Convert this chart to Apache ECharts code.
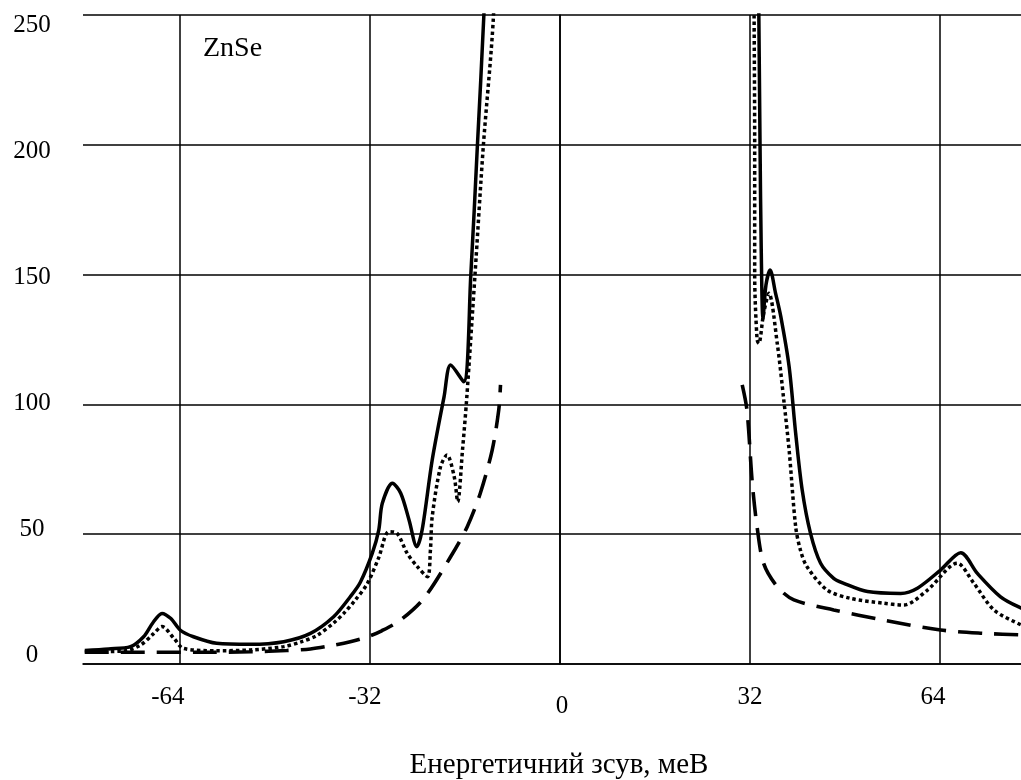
<!DOCTYPE html>
<html>
<head>
<meta charset="utf-8">
<script src="https://cdn.jsdelivr.net/npm/echarts@6/dist/echarts.min.js"></script>
<style>
  html, body { margin: 0; padding: 0; background: #fff; }
  #chart { width: 1021px; height: 780px; }
</style>
</head>
<body>
<div id="chart"></div>
<script>
  // tick labels
  var xTicks = [-64, -32, 0, 32, 64]
  var yTicks = [0, 50, 100, 150, 200, 250]

  // solid curve (left / right branch), [shift, intensity]
  var solidLeft = [[-80, 5.2], [-76, 5.8], [-72.3, 6.7], [-70.1, 10.5], [-68.5, 16], [-67, 19.5], [-65.5, 17.5],
    [-63.9, 13], [-61.7, 10.5], [-57.8, 8], [-52.1, 7.6], [-46.5, 8.6], [-42, 11.8], [-38.1, 18.2], [-35.3, 25.9],
    [-33.6, 31.5], [-31.6, 42.6], [-30.5, 51.6], [-29.9, 61.9], [-28.2, 69.6], [-26.8, 65.8], [-25.4, 55.5],
    [-24.1, 45.2], [-23.2, 51.6], [-21.5, 78.6], [-19.5, 103], [-18.4, 115.2], [-16.2, 108.7], [-15.0, 149.8],
    [-13.9, 199.3], [-12.8, 250], [-12.2, 290]]
  var solidRight = [[33.3, 290], [33.5, 250], [33.7, 200], [33.9, 160], [34.2, 133], [34.7, 146], [35.4, 151.8],
    [36.3, 143], [37.2, 133.8], [38.6, 114.5], [39.7, 88.9], [40.8, 67], [42.2, 50.3], [43.9, 38.8], [46.1, 33],
    [47.8, 31.1], [51.8, 27.9], [57.4, 27.2], [60.2, 29.2], [64.1, 36.2], [67.5, 42.9], [70.3, 34.9], [74.2, 25.9],
    [77.7, 21.5], [80, 19.5]]

  // dotted curve
  var dottedLeft = [[-80, 4.7], [-73.4, 5], [-70.6, 7.3], [-68.5, 11.5], [-67, 14.4], [-65, 9.9], [-63.4, 6],
    [-57.8, 5.1], [-52.1, 5.4], [-46.5, 6.7], [-43.6, 8.5], [-40.9, 11], [-38.1, 15.8], [-36.4, 19.5], [-34.5, 24.5],
    [-32.4, 31.1], [-30.5, 41], [-28.8, 51], [-27.4, 50.3], [-25.7, 42.6], [-24, 37.5], [-22.3, 33.6], [-21.8, 43.9],
    [-21.5, 56.7], [-20.1, 76], [-19, 80.5], [-17.8, 72.2], [-17.2, 62.5], [-16.4, 82.4], [-15.7, 102],
    [-14.3, 149.8], [-12.9, 199.3], [-11.2, 249], [-10.8, 290]]
  var dottedRight = [[32.6, 290], [32.7, 250], [32.8, 200], [32.8, 150], [33.2, 125], [33.5, 123.5], [34.3, 135],
    [35.2, 142.8], [36.6, 123.5], [37.7, 101.7], [38.6, 82.4], [39.7, 52.9], [40.5, 43.9], [41.6, 37.5], [45, 28.5],
    [48.9, 25.3], [54.5, 23.4], [57.9, 22.7], [61.9, 28.5], [66.9, 38.8], [69.7, 31.1], [73.1, 20.8], [77.7, 15],
    [80, 13]]

  // dashed curve
  var dashedLeft = [[-80, 4.5], [-70, 4.5], [-60, 4.5], [-52, 4.7], [-46, 5.2], [-42, 5.8], [-38, 7.3],
    [-35.3, 8.6], [-32.4, 10.5], [-30, 12.8], [-26.8, 17], [-22.9, 25.3], [-18.4, 41.3], [-15.6, 52.9],
    [-13.4, 65.8], [-11.4, 82.4], [-10.3, 97.8], [-10, 107.5]]
  var dashedRight = [[30.7, 107.5], [31.5, 97.8], [32.4, 69.6], [33.2, 52.9], [34.3, 38.8], [36.6, 29.8],
    [39.4, 24.7], [46.1, 20.8], [54.5, 16.9], [64.1, 13.1], [71.4, 11.8], [77.7, 11.2], [80, 11]]

  var FONT = '"Liberation Serif", "DejaVu Serif", serif'
  var LABEL_SIZE = 25

  // подписи оси X в оригинале сдвинуты неравномерно (Excel)
  var xLabelShift = { '-64': -12, '-32': -5, '0': 2, '32': 0, '64': -7 }

  function curve(data, type, width) {
    return {
      type: 'line',
      data: data,
      symbol: 'none',
      smooth: 0.3,
      clip: true,
      lineStyle: { color: '#000', width: width, type: type, cap: 'butt' }
    }
  }

  var rich = {}
  xTicks.forEach(function (v, i) {
    var s = xLabelShift[String(v)]
    rich['t' + i] = {
      fontFamily: FONT,
      fontSize: LABEL_SIZE,
      color: '#000',
      padding: [v === 0 ? 9 : 0, s < 0 ? -2 * s : 0, 0, s > 0 ? 2 * s : 0]
    }
  })

  var chart = echarts.init(document.getElementById('chart'))
  chart.setOption({
    animation: false,
    backgroundColor: '#fff',
    grid: {
      left: 83,
      top: 15,
      width: 952, // правый край (80) обрезан окном
      height: 649,
      containLabel: false,
      outerBoundsMode: 'none'
    },
    graphic: [{
      type: 'text',
      left: 203,
      top: 35,
      style: { text: 'ZnSe', font: '28px ' + FONT, fill: '#000' }
    }],
    xAxis: {
      type: 'value',
      min: -80.3,
      max: 80,
      name: 'Енергетичний зсув, меВ',
      nameLocation: 'middle',
      nameGap: 87,
      nameTextStyle: { fontFamily: FONT, fontSize: 29, color: '#000' },
      axisLine: { show: true, onZero: false, lineStyle: { color: '#000', width: 1.6 } },
      axisTick: { show: false, customValues: xTicks },
      axisLabel: {
        customValues: xTicks,
        margin: 21,
        fontFamily: FONT,
        fontSize: LABEL_SIZE,
        color: '#000',
        formatter: function (v) {
          var i = xTicks.indexOf(v)
          return i >= 0 ? '{t' + i + '|' + v + '}' : ''
        },
        rich: rich
      },
      splitLine: { show: true, lineStyle: { color: '#000', width: 1.5 } }
    },
    yAxis: [{
      type: 'value',
      min: 0,
      max: 250,
      interval: 50,
      axisLine: { show: true, lineStyle: { color: '#000', width: 1.6 } },
      axisTick: { show: false },
      axisLabel: { show: false },
      splitLine: { show: true, lineStyle: { color: '#000', width: 1.5 } }
    }, {
      // only labels: spaced as in the original (slightly tighter than the grid)
      type: 'value',
      position: 'left',
      min: -3.57,
      max: 253.97,
      axisLine: { show: false },
      axisTick: { show: false },
      splitLine: { show: false },
      axisLabel: {
        customValues: yTicks,
        margin: 51,
        align: 'center',
        fontFamily: FONT,
        fontSize: LABEL_SIZE,
        color: '#000'
      }
    }],
    series: [
      curve(dashedLeft, [24, 12], 3.6),
      curve(dashedRight, [24, 12], 3.6),
      curve(dottedLeft, [3.5, 3], 3.5),
      curve(dottedRight, [3.5, 3], 3.5),
      curve(solidLeft, 'solid', 3.5),
      curve(solidRight, 'solid', 3.5)
    ]
  })
</script>
</body>
</html>
